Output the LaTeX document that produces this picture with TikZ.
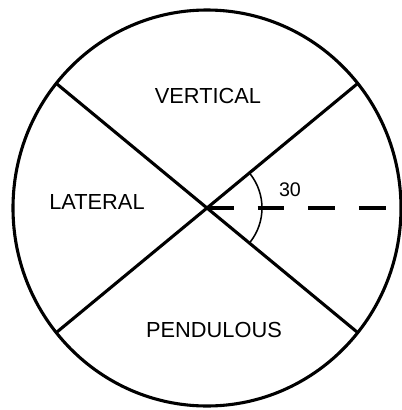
\documentclass[tikz,border=0pt]{standalone}
\usepackage{fontspec}
\setmainfont{Liberation Sans}
\begin{document}
\begin{tikzpicture}[x=0.025cm,y=0.025cm,line cap=butt,line join=round,
  rim/.style={line width=2.2pt},
  sector/.style={font=\fontsize{15.5}{18}\selectfont,inner sep=0pt}]
\useasboundingbox (-207,-202) rectangle (195,208);
\def\rx{194}\def\ry{198}\def\ang{39}
\coordinate (O) at (0,0);
\coordinate (UR) at ({\rx*cos(\ang)},{\ry*sin(\ang)});\coordinate (UL) at ({\rx*cos(180-\ang)},{\ry*sin(180-\ang)});
\coordinate (LL) at ({\rx*cos(180+\ang)},{\ry*sin(180+\ang)});\coordinate (LR) at ({\rx*cos(-\ang)},{\ry*sin(-\ang)});
\coordinate (E) at (\rx,0);
\draw[rim] (O) ellipse [x radius=\rx,y radius=\ry];
\draw[rim] (UL)--(LR);\draw[rim] (LL)--(UR);
\draw[rim,dash pattern=on 19 off 17] (O)--(E);
\draw[line width=1.1pt] (-38:55) arc[start angle=-38,end angle=38,radius=55];
\node[sector] (vert) at (1,112) {VERTICAL};
\node[sector] (lat) at (-110,6) {LATERAL};
\node[sector] (pend) at (7,-122) {PENDULOUS};
\node[font=\fontsize{14}{16}\selectfont,inner sep=0pt] (deg) at (83,18) {30};
\end{tikzpicture}
\end{document}
